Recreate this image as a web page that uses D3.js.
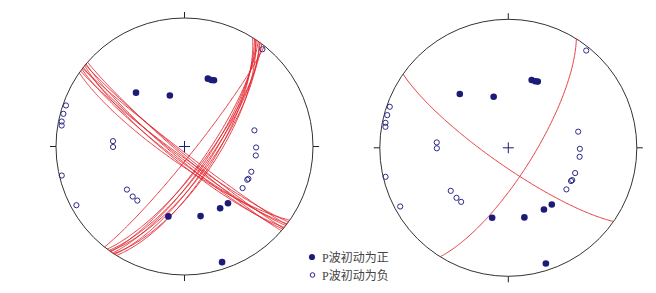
<!DOCTYPE html>
<html>
<head>
<meta charset="utf-8">
<script src="https://cdn.jsdelivr.net/npm/d3@7"></script>
<style>
  html, body { margin: 0; padding: 0; background: #fff; }
  svg { display: block; }
</style>
</head>
<body>
<svg id="chart" width="656" height="293"></svg>
<script>
// ---- data ----
// stations with positive (compressional) first motion: azimuth (deg), takeoff angle (deg)
const upAzimuth = [318, 344, 19, 22, 24, 193, 167, 150, 142.5, 162];
const upTakeoff = [47, 34, 46.5, 46.5, 47, 46.5, 46.3, 46.2, 46.3, 84];
// stations with negative (dilatational) first motion
const downAzimuth = [38.7, 289.1, 285.1, 281.5, 279.7, 274.3, 269.6, 256.7, 241.5, 233.2, 226, 221.1, 77, 90.8, 97.2, 110.7, 116.8, 117.9, 125.6];
const downTakeoff = [86.6, 87.3, 87.3, 87.2, 86.6, 46.5, 46.3, 87.9, 85.2, 46.6, 46.7, 46.5, 46.5, 46.4, 46.6, 46.3, 46.4, 46.0, 46.3];
// nodal planes, left panel (all accepted solutions): strike, dip (right-hand rule)
const leftStrikes = [125, 126, 127, 127.5, 128, 129, 129.5, 130, 131,
                     38.5, 32, 33, 34, 35, 35.5, 36, 37, 33.5];
const leftDips    = [79, 84, 81, 87, 83, 80, 86, 82, 85,
                     84, 70, 72, 74, 76, 71, 73, 75, 69];
// nodal planes, right panel (best solution)
const rightStrikes = [125, 32];
const rightDips    = [79, 74];
// legend labels
const legendLabels = ["P波初动为正", "P波初动为负"];

// ---- drawing ----
const svg = d3.select("#chart");
const R = 128.5;
const toRad = Math.PI / 180;
const navy = "#1c1c78";
const red = "#e3262f";

const panels = [
  { cx: 184.5, cy: 146.5, strikes: leftStrikes, dips: leftDips },
  { cx: 508.3, cy: 147.8, strikes: rightStrikes, dips: rightDips }
];

// lower-hemisphere equal-area (Schmidt) projection of a unit vector (N, E, Down)
function project(v) {
  const k = 1 / Math.sqrt(1 + v[2]);
  return [v[1] * k, v[0] * k];
}
function stationVec(az, takeoff) {
  const a = az * toRad, i = takeoff * toRad;
  return [Math.sin(i) * Math.cos(a), Math.sin(i) * Math.sin(a), Math.cos(i)];
}
function planeVecs(strike, dip) {
  const s = strike * toRad, d = dip * toRad, dd = s + Math.PI / 2;
  const sv = [Math.cos(s), Math.sin(s), 0];
  const dv = [Math.cos(d) * Math.cos(dd), Math.cos(d) * Math.sin(dd), Math.sin(d)];
  return d3.range(0, 180.5, 1).map(l => {
    const c = Math.cos(l * toRad), sn = Math.sin(l * toRad);
    return [c * sv[0] + sn * dv[0], c * sv[1] + sn * dv[1], Math.max(0, c * sv[2] + sn * dv[2])];
  });
}

panels.forEach(p => {
  const x = d3.scaleLinear().domain([-1, 1]).range([p.cx - R, p.cx + R]);
  const y = d3.scaleLinear().domain([-1, 1]).range([p.cy + R, p.cy - R]);
  const g = svg.append("g");

  // primitive circle
  g.append("circle").attr("cx", x(0)).attr("cy", y(0)).attr("r", R)
    .attr("fill", "none").attr("stroke", "#333").attr("stroke-width", 1);

  // N/E/S/W ticks
  [[0, 1], [1, 0], [0, -1], [-1, 0]].forEach(([ex, ny]) => {
    g.append("line")
      .attr("x1", x(ex)).attr("y1", y(ny))
      .attr("x2", x(ex * 1.047)).attr("y2", y(ny * 1.047))
      .attr("stroke", "#222").attr("stroke-width", 1);
  });

  // center cross
  const cs = 5.5 / R;
  g.append("line").attr("x1", x(-cs)).attr("x2", x(cs)).attr("y1", y(0)).attr("y2", y(0))
    .attr("stroke", navy).attr("stroke-width", 1);
  g.append("line").attr("x1", x(0)).attr("x2", x(0)).attr("y1", y(-cs)).attr("y2", y(cs))
    .attr("stroke", navy).attr("stroke-width", 1);

  // nodal planes
  const line = d3.line().x(d => x(d[0])).y(d => y(d[1])).curve(d3.curveLinear);
  p.strikes.forEach((s, i) => {
    const pts = planeVecs(s, p.dips[i]).map(project);
    g.append("path").attr("d", line(pts))
      .attr("fill", "none").attr("stroke", red).attr("stroke-width", 0.9);
  });

  // stations
  downAzimuth.forEach((a, i) => {
    const q = project(stationVec(a, downTakeoff[i]));
    g.append("circle").attr("cx", x(q[0])).attr("cy", y(q[1])).attr("r", 2.6)
      .attr("fill", "none").attr("stroke", "#2a2a88").attr("stroke-width", 1);
  });
  upAzimuth.forEach((a, i) => {
    const q = project(stationVec(a, upTakeoff[i]));
    g.append("circle").attr("cx", x(q[0])).attr("cy", y(q[1])).attr("r", 3.3)
      .attr("fill", navy).attr("stroke", "none");
  });
});

// legend
const lg = svg.append("g");
lg.append("circle").attr("cx", 312).attr("cy", 257).attr("r", 3.1).attr("fill", navy);
lg.append("circle").attr("cx", 312.5).attr("cy", 275).attr("r", 2.3)
  .attr("fill", "none").attr("stroke", "#2a2a88").attr("stroke-width", 1);
legendLabels.forEach((t, i) => {
  lg.append("text").attr("x", 322).attr("y", 261.5 + i * 18.5)
    .attr("font-family", "'Liberation Serif', 'Noto Sans CJK SC', serif")
    .attr("font-size", 12).attr("fill", "#444").text(t);
});
</script>
</body>
</html>
